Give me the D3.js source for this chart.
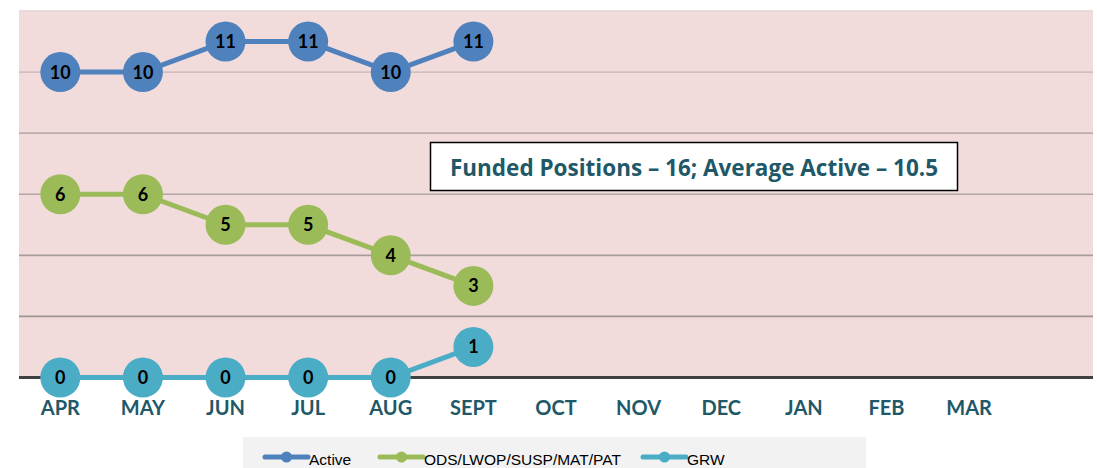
<!DOCTYPE html>
<html><head><meta charset="utf-8">
<script src="https://cdn.jsdelivr.net/npm/d3@7"></script>
<style>body{margin:0;background:#fff}svg{display:block}</style>
</head><body>
<svg id="c" width="1097" height="468"></svg>
<script>
const months = ["APR","MAY","JUN","JUL","AUG","SEPT","OCT","NOV","DEC","JAN","FEB","MAR"];
const activeVals = [10,10,11,11,10,11];
const odsVals = [6,6,5,5,4,3];
const grwVals = [0,0,0,0,0,1];
const yTicks = [0,2,4,6,8,10,12];
const seriesNames = ["Active","ODS/LWOP/SUSP/MAT/PAT","GRW"];
const seriesColors = ["#4f81bd","#9bbb59","#4bacc6"];
const annotation = "Funded Positions \u2013 16; Average Active \u2013 10.5";

const svg = d3.select("#c");
const L = 19, R = 1093, T = 11, B = 377.5;
const bw = (R - L) / 13;
const x = d3.scaleBand().domain(months).range([L, L + bw * 12]);
const cx = m => x(m) + x.bandwidth() / 2;
const y = d3.scaleLinear().domain([0, 12]).range([B, T]);

svg.append("rect").attr("x", L).attr("y", T).attr("width", R - L).attr("height", B - T).attr("fill", "#f2dcdb");
const gridCols = {2:"#9e9494",4:"#a89c9c",6:"#b3a6a6",8:"#bcadad",10:"#d2c0c0",12:"#e2d4d4"};
svg.append("g").selectAll("line").data(yTicks.filter(d => d > 0)).join("line")
  .attr("x1", L).attr("x2", R).attr("y1", d => y(d)).attr("y2", d => y(d))
  .attr("stroke", d => gridCols[d]).attr("stroke-width", 1.6);

// x axis
const xAxis = svg.append("g").attr("transform", `translate(0,${B})`)
  .call(d3.axisBottom(x).tickSize(0));
xAxis.select(".domain").remove();
xAxis.selectAll("text").attr("font-family", "Lato, sans-serif").attr("font-weight", "bold")
  .attr("font-size", 20).attr("fill", "#215868").attr("y", 37.5).attr("dy", "0");
svg.append("line").attr("x1", L).attr("x2", R).attr("y1", B).attr("y2", B)
  .attr("stroke", "#404040").attr("stroke-width", 3);

// annotation
svg.append("rect").attr("x", 430.5).attr("y", 142.5).attr("width", 527).attr("height", 48)
  .attr("fill", "#fff").attr("stroke", "#000").attr("stroke-width", 1.5);
svg.append("text").attr("x", 694).attr("y", 176).attr("text-anchor", "middle")
  .attr("font-family", "'Open Sans', sans-serif").attr("font-weight", "bold").attr("font-size", 22.5)
  .attr("fill", "#215868").text(annotation);

const allSeries = [activeVals, odsVals, grwVals];
const line = d3.line().x((d, i) => cx(months[i])).y(d => y(d));
allSeries.forEach((vals, s) => {
  const g = svg.append("g");
  g.append("path").datum(vals).attr("d", line).attr("fill", "none")
    .attr("stroke", seriesColors[s]).attr("stroke-width", 5);
  g.selectAll("circle").data(vals).join("circle")
    .attr("cx", (d, i) => cx(months[i])).attr("cy", d => y(d)).attr("r", 20)
    .attr("fill", seriesColors[s]);
  g.selectAll("text").data(vals).join("text")
    .attr("x", (d, i) => cx(months[i])).attr("y", d => y(d) + 6.5)
    .attr("text-anchor", "middle").attr("font-family", "Lato, sans-serif")
    .attr("font-weight", "bold").attr("font-size", 18).attr("fill", "#000").text(d => d);
});

// legend
svg.append("rect").attr("x", 243).attr("y", 437).attr("width", 623).attr("height", 40).attr("fill", "#f2f2f2");
const legX = [265, 380, 643];
const legW = 43;
seriesNames.forEach((n, i) => {
  const g = svg.append("g");
  g.append("line").attr("x1", legX[i]).attr("x2", legX[i] + legW).attr("y1", 457).attr("y2", 457)
    .attr("stroke", seriesColors[i]).attr("stroke-width", 5).attr("stroke-linecap", "round");
  g.append("circle").attr("cx", legX[i] + legW / 2).attr("cy", 457).attr("r", 5.5).attr("fill", seriesColors[i]);
  g.append("text").attr("x", legX[i] + legW + 1).attr("y", 465)
    .attr("font-family", "'Liberation Sans Narrow', sans-serif").attr("font-size", 15.5)
    .attr("fill", "#000").text(n);
});
</script>
</body></html>
